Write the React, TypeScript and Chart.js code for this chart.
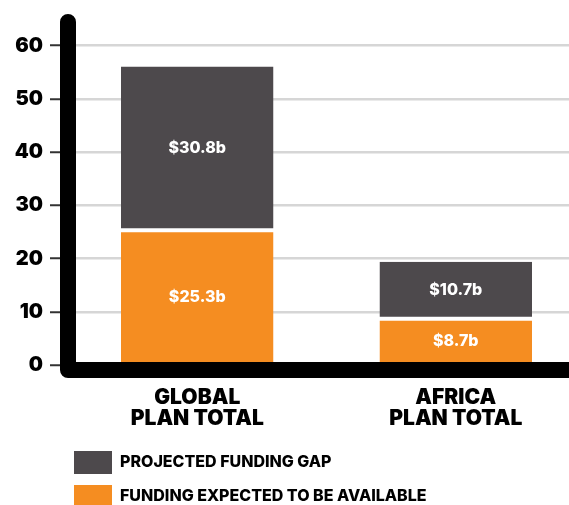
import React, { useEffect, useRef } from "react";
import { Chart, registerables } from "chart.js";

Chart.register(...registerables);

const categories: string[][] = [
  ["GLOBAL", "PLAN TOTAL"],
  ["AFRICA", "PLAN TOTAL"],
];
const availableValues = [25.3, 8.7];
const gapValues = [30.8, 10.7];
const availableLabel = "FUNDING EXPECTED TO BE AVAILABLE";
const gapLabel = "PROJECTED FUNDING GAP";
const yMin = 0;
const yMax = 65;
const yStep = 10;

const ORANGE = "#F58D21";
const GRAY = "#4D494C";
const FONT = "Inter, 'Open Sans', Arial, sans-serif";

const W = 585;
const H = 518;

const axisPlugin = {
  id: "thickAxis",
  afterDatasetsDraw(chart: any) {
    const { ctx, chartArea, scales } = chart;
    const y0 = scales.y.getPixelForValue(0) + 5;
    ctx.save();
    ctx.strokeStyle = "#000";
    ctx.lineWidth = 16;
    ctx.lineCap = "round";
    ctx.lineJoin = "round";
    ctx.beginPath();
    ctx.moveTo(chartArea.left, chartArea.top + 3);
    ctx.lineTo(chartArea.left, y0);
    ctx.lineTo(chart.width + 20, y0);
    ctx.stroke();
    ctx.restore();
  },
};

const valueLabelPlugin = {
  id: "valueLabels",
  afterDatasetsDraw(chart: any) {
    const { ctx } = chart;
    ctx.save();
    ctx.fillStyle = "#fff";
    ctx.font = `800 16px ${FONT}`;
    ctx.textAlign = "center";
    ctx.textBaseline = "middle";
    chart.data.datasets.forEach((ds: any, di: number) => {
      const meta = chart.getDatasetMeta(di);
      meta.data.forEach((bar: any, i: number) => {
        const v = ds.data[i];
        const cy = (bar.y + bar.base) / 2;
        ctx.fillText(`$${v}b`, bar.x, cy);
      });
    });
    ctx.restore();
  },
};

const legendShiftPlugin = {
  id: "legendShift",
  afterLayout(chart: any) {
    const l = chart.legend;
    if (l) {
      l.left += 63;
      l.right += 63;
    }
  },
};

export default function App() {
  const ref = useRef<HTMLCanvasElement | null>(null);

  useEffect(() => {
    if (!ref.current) return;
    const chart = new Chart(ref.current, {
      type: "bar",
      data: {
        labels: categories,
        datasets: [
          {
            label: availableLabel,
            data: availableValues,
            backgroundColor: ORANGE,
            borderColor: "#fff",
            borderWidth: { top: 2, bottom: 0, left: 0, right: 0 },
            borderSkipped: false,
          },
          {
            label: gapLabel,
            data: gapValues,
            backgroundColor: GRAY,
            borderColor: "#fff",
            borderWidth: { top: 0, bottom: 2, left: 0, right: 0 },
            borderSkipped: false,
          },
        ],
      },
      options: {
        responsive: false,
        animation: false,
        devicePixelRatio: 1,
        layout: { padding: { top: 18, left: 0, right: 0, bottom: 0 } },
        datasets: {
          bar: { barPercentage: 0.59, categoryPercentage: 1 },
        },
        plugins: {
          tooltip: { enabled: false },
          legend: {
            position: "bottom",
            align: "start",
            reverse: true,
            labels: {
              boxWidth: 38,
              boxHeight: 23,
              padding: 11,
              color: "#000",
              font: { family: FONT, size: 16, weight: "800" },
              generateLabels(c: any) {
                const items = Chart.defaults.plugins.legend.labels.generateLabels(c);
                return items.map((it: any) => ({ ...it, lineWidth: 0 }));
              },
            },
          },
        },
        scales: {
          x: {
            stacked: true,
            grid: { display: false, drawTicks: false },
            border: { display: false },
            ticks: {
              padding: 22,
              color: "#000",
              font: { family: FONT, size: 21, weight: "900", lineHeight: 1.0 },
              maxRotation: 0,
              autoSkip: false,
            },
            afterFit(scale: any) {
              scale.height = 75;
            },
          },
          y: {
            stacked: true,
            min: yMin,
            max: yMax,
            border: { display: false },
            grid: {
              color: "#D6D6D6",
              lineWidth: 2.5,
              tickLength: 18,
              tickColor: "#333",
              tickWidth: 2,
            },
            ticks: {
              stepSize: yStep,
              includeBounds: false,
              padding: 7,
              color: "#000",
              font: { family: FONT, size: 20, weight: "900" },
            },
            afterFit(scale: any) {
              scale.width = 68;
            },
          },
        },
      },
      plugins: [axisPlugin, valueLabelPlugin, legendShiftPlugin],
    } as any);
    return () => chart.destroy();
  }, []);

  return (
    <div
      style={{
        position: "fixed",
        left: 0,
        top: 0,
        width: 569,
        height: 505,
        overflow: "hidden",
        background: "#fff",
      }}
    >
      <canvas ref={ref} width={W} height={H} style={{ width: W, height: H, display: "block" }} />
    </div>
  );
}
